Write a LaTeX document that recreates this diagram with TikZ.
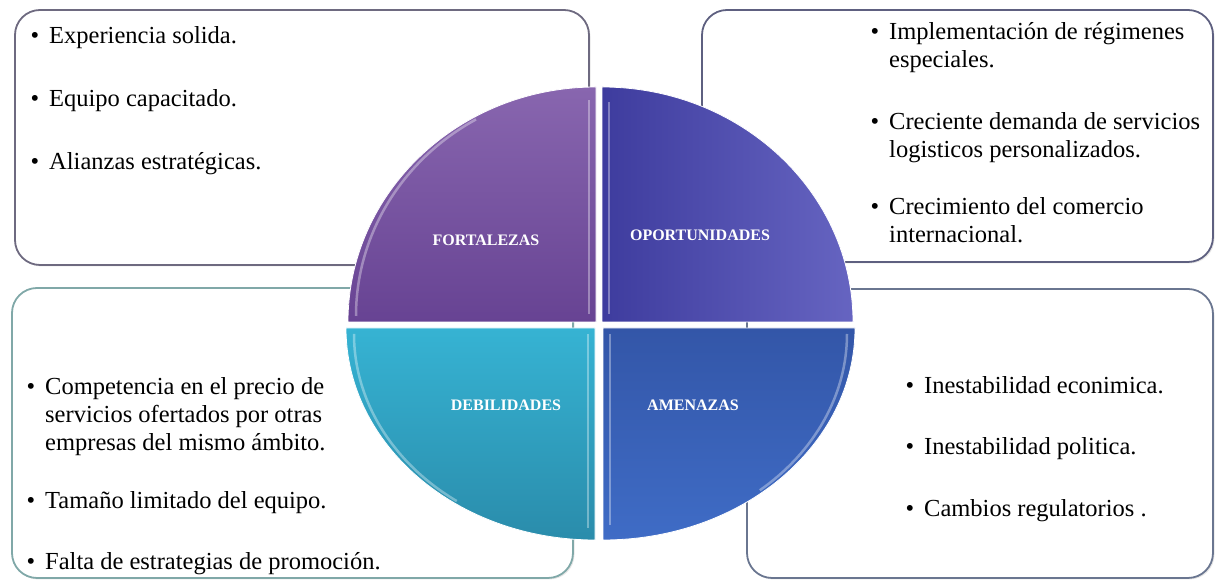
\documentclass[tikz,border=0pt]{standalone}
\usepackage{fontspec}
\setmainfont{Liberation Serif}
\usetikzlibrary{shadows}
\definecolor{fortcol}{HTML}{7B55A6}
\definecolor{fortdark}{HTML}{674393}
\definecolor{oportcol}{HTML}{4B49B6}
\definecolor{oportdark}{HTML}{3E3C9E}
\definecolor{debilcol}{HTML}{36B3D3}
\definecolor{debildark}{HTML}{2A8CAB}
\definecolor{amencol}{HTML}{3F6CC6}
\definecolor{amendark}{HTML}{3356A8}
\definecolor{fortline}{HTML}{6E6A80}
\definecolor{oportline}{HTML}{5E6080}
\definecolor{debilline}{HTML}{80A8A8}
\definecolor{amenline}{HTML}{6A7690}
\tikzset{
  cuadro/.style={rounded corners=25pt, line width=1.8pt, fill=white,
    drop shadow={opacity=0.2, shadow xshift=1.5pt, shadow yshift=-1.5pt}},
  sector/.style={draw=white, line width=0.8pt},
  brillo/.style={draw=white, line width=2.5pt, opacity=0.35},
  punto/.style={anchor=base west, align=left, inner sep=0pt,
    font=\fontsize{24.5}{28}\selectfont},
  titulo/.style={text=white, inner sep=0pt, font=\fontsize{16}{18}\selectfont\bfseries},
}
\newcommand{\bul}{\llap{\textbullet\hspace{10pt}}}
\begin{document}
\begin{tikzpicture}[x=1pt,y=1pt]
\useasboundingbox (0,0) rectangle (1219,580);
% cuadros de texto
\draw[cuadro, draw=fortline] (15,315) rectangle (589,570);
\draw[cuadro, draw=oportline] (702,318) rectangle (1213,570);
\draw[cuadro, draw=debilline] (12,2) rectangle (573,292);
\draw[cuadro, draw=amenline] (747,2) rectangle (1213,291);
% circulo en cuatro partes
\path[sector, top color=fortcol!90!white, bottom color=fortdark]
  (596,258) -- (348,258) arc (180:90:248 and 235) -- cycle;
\path[sector, left color=oportdark, right color=oportcol!85!white]
  (602,258) -- (602,493) arc (90:0:251 and 235) -- cycle;
\path[sector, top color=debilcol, bottom color=debildark]
  (595,252) -- (346,252) arc (180:270:249 and 212) -- cycle;
\path[sector, top color=amendark, bottom color=amencol]
  (603,252) -- (603,40) arc (270:360:252 and 212) -- cycle;
% brillos
\draw[brillo] (356,264) arc (180:120:240 and 227);
\draw[brillo] (589,266) -- (589,480);
\draw[brillo] (609,266) -- (609,478);
\draw[brillo] (354,246) arc (180:235:241 and 204);
\draw[brillo] (588,246) -- (588,52);
\draw[brillo] (610,246) -- (610,55);
\draw[brillo] (847,246) arc (0:-50:244 and 204);
% titulos
\node[titulo] (fort) at (486,340) {FORTALEZAS};
\node[titulo] (oport) at (700,345) {OPORTUNIDADES};
\node[titulo] (debil) at (506,175) {DEBILIDADES};
\node[titulo] (amen) at (693,175) {AMENAZAS};
% fortalezas
\node[punto] (fo1) at (49,536) {\bul Experiencia solida.};
\node[punto] (fo2) at (49,473) {\bul Equipo capacitado.};
\node[punto] (fo3) at (49,410) {\bul Alianzas estratégicas.};
% oportunidades (base = ultima linea)
\node[punto] (op1) at (889,512) {\bul Implementación de régimenes\\especiales.};
\node[punto] (op2) at (889,422) {\bul Creciente demanda de servicios\\logisticos personalizados.};
\node[punto] (op3) at (889,337) {\bul Crecimiento del comercio\\internacional.};
% debilidades
\node[punto] (de1) at (45,129) {\bul Competencia en el precio de\\servicios ofertados por otras\\empresas del mismo ámbito.};
\node[punto] (de2) at (45,71) {\bul Tamaño limitado del equipo.};
\node[punto] (de3) at (45,10) {\bul Falta de estrategias de promoción.};
% amenazas
\node[punto] (am1) at (924,186) {\bul Inestabilidad econimica.};
\node[punto] (am2) at (924,125) {\bul Inestabilidad politica.};
\node[punto] (am3) at (924,63) {\bul Cambios regulatorios .};
\end{tikzpicture}
\end{document}
